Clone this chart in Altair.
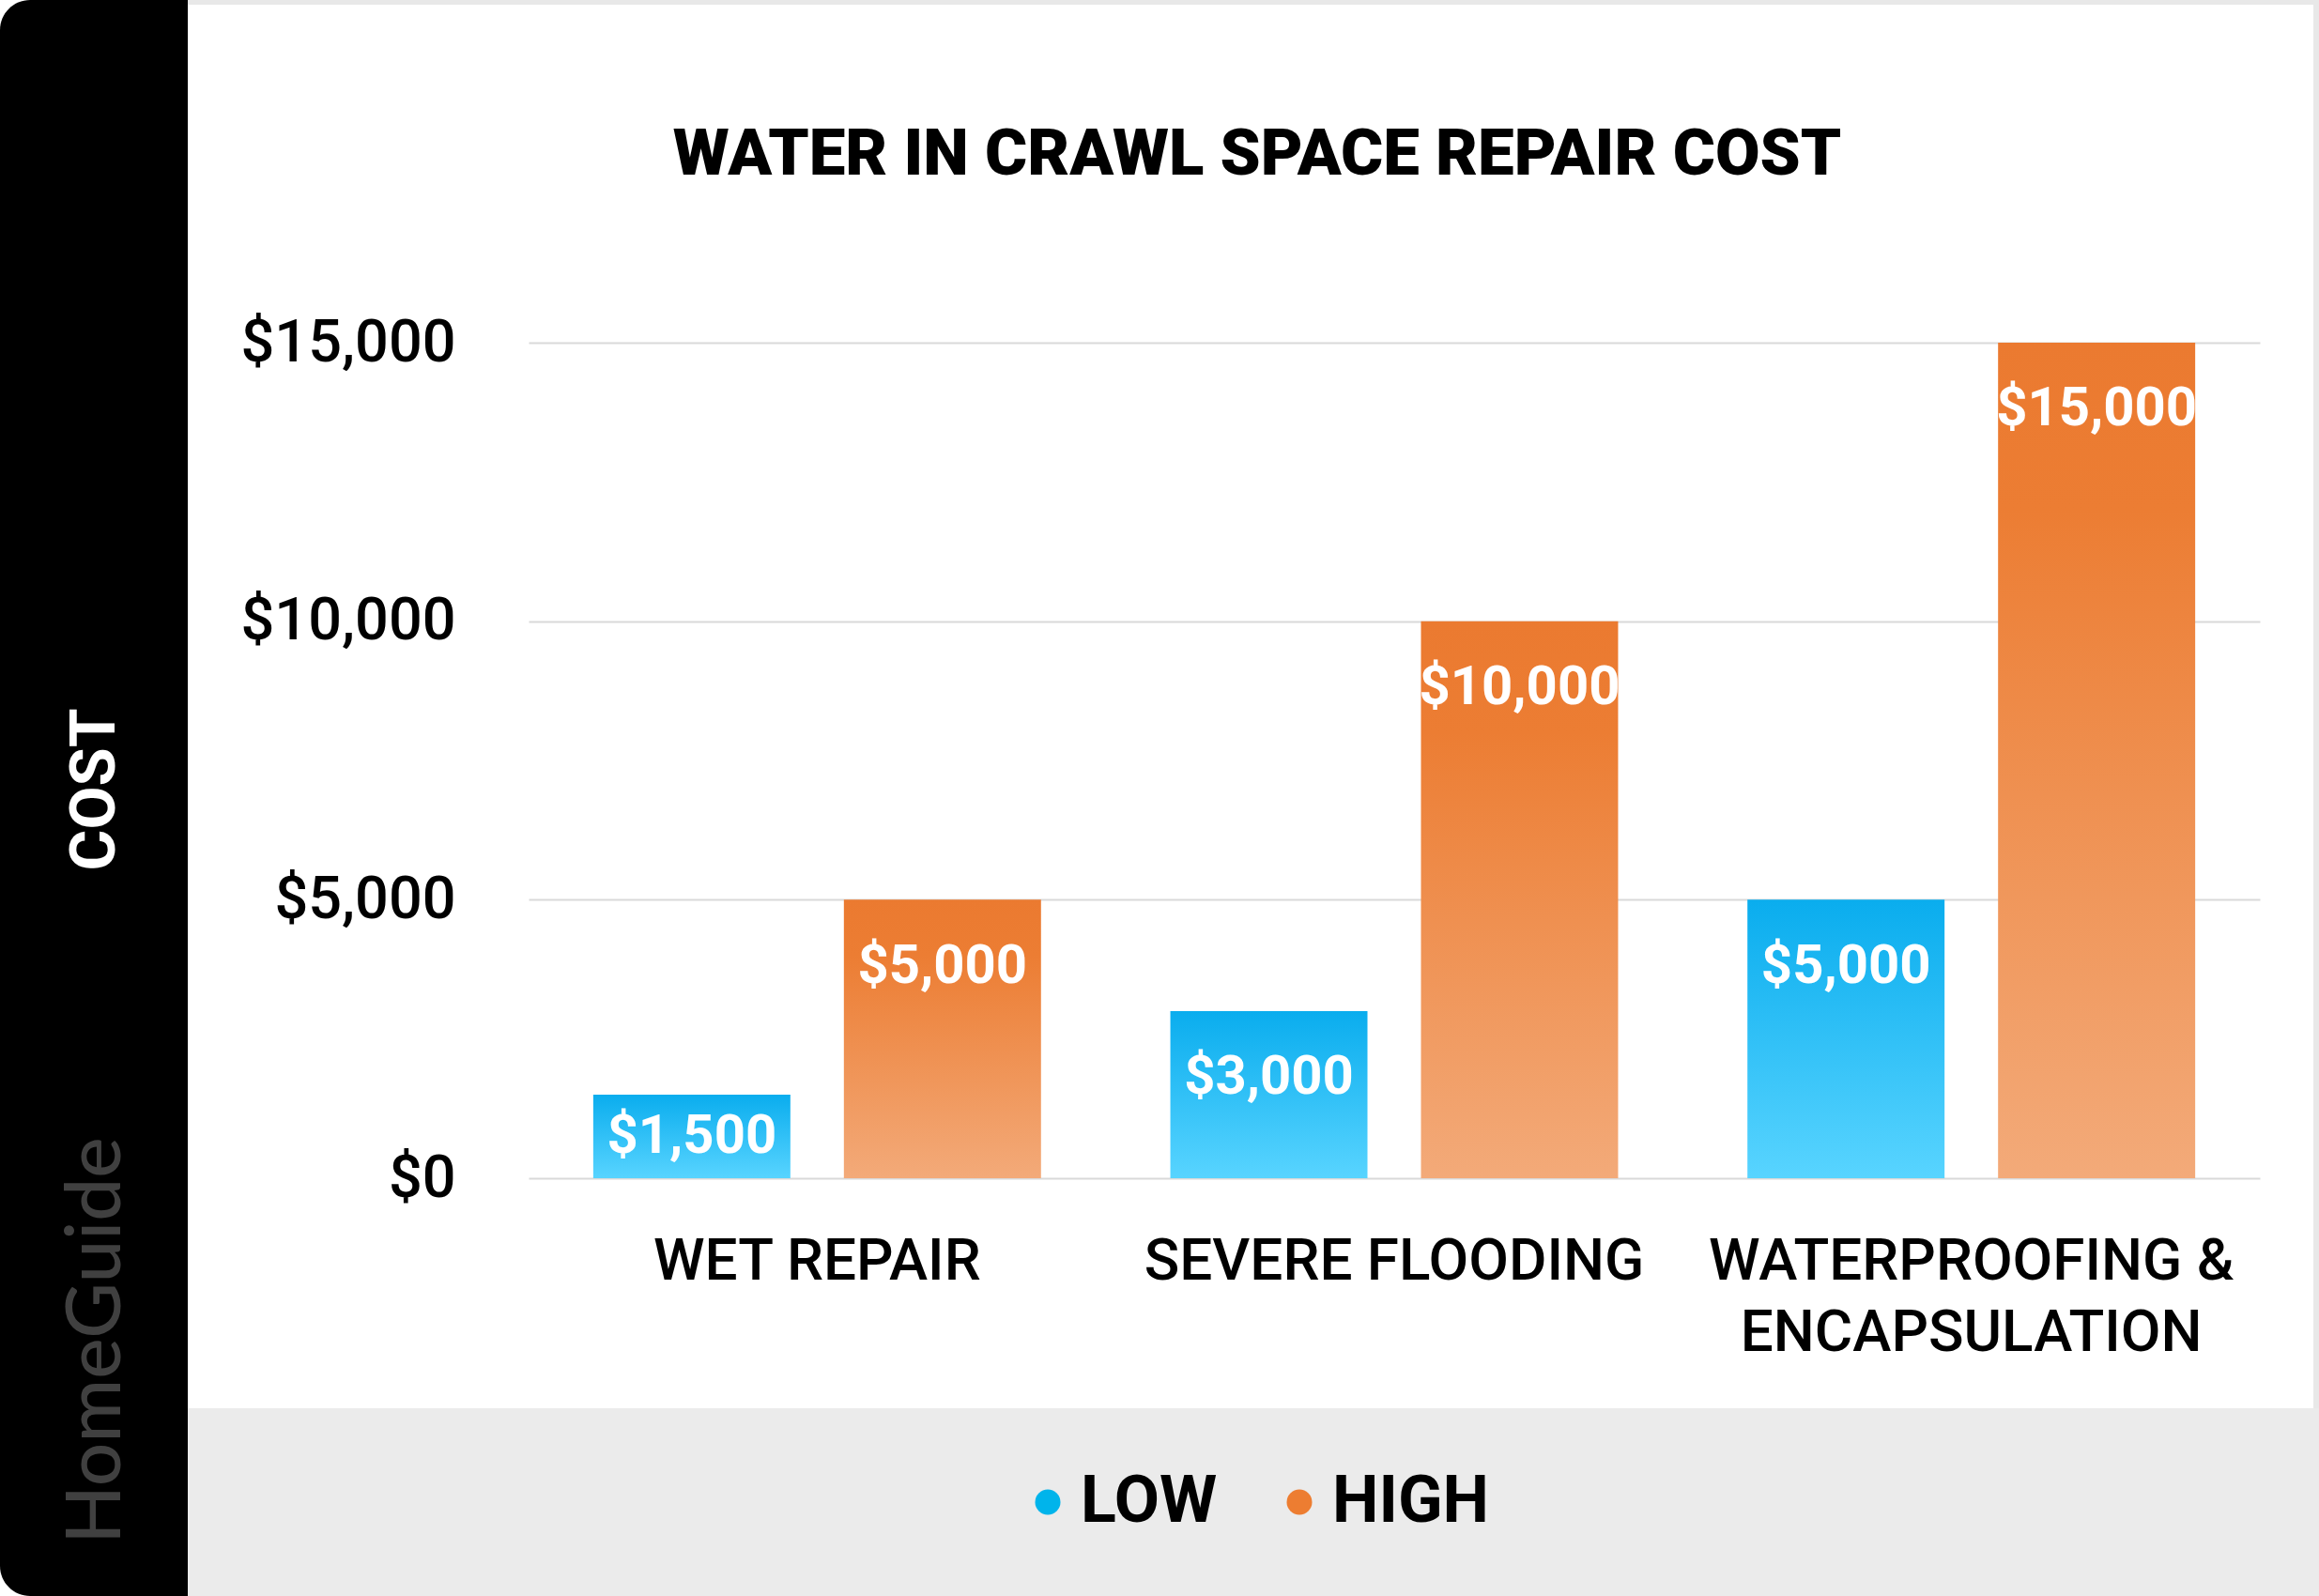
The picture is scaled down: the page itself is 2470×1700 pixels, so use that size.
import altair as alt
import pandas as pd

# ---------------- data ----------------
categories = ["WET REPAIR", "SEVERE FLOODING", "WATERPROOFING & ENCAPSULATION"]
low_costs = [1500, 3000, 5000]
high_costs = [5000, 10000, 15000]
series_names = ["LOW", "HIGH"]
series_colors = ["#00b4eb", "#ed7d31"]
y_ticks = [0, 5000, 10000, 15000]

title_text = "WATER IN CRAWL SPACE REPAIR COST"
axis_title_text = "COST"
brand_text = "HomeGuide"

rows = []
for c, lo, hi in zip(categories, low_costs, high_costs):
    rows.append({"category": c, "series": "LOW", "value": lo})
    rows.append({"category": c, "series": "HIGH", "value": hi})
df = pd.DataFrame(rows)

# ---------------- layout ----------------
W, H = 1844, 890
PL, PT, PR, PB = 563, 365, 63, 445
TOTAL_W, TOTAL_H = PL + W + PR, PT + H + PB

FONT = "Roboto"

x_axis = alt.Axis(
    title=None, labelAngle=0, domain=False, ticks=False, grid=False,
    labelFont=FONT, labelFontSize=62, labelFontWeight=500, labelColor="black",
    labelPadding=58, labelLineHeight=76, labelLimit=2000,
    labelExpr="datum.label == 'WATERPROOFING & ENCAPSULATION' ? "
              "['WATERPROOFING &', 'ENCAPSULATION'] : datum.label",
)
y_axis = alt.Axis(
    title=None, values=y_ticks, format="$,.0f", domain=False, ticks=False,
    labelFont=FONT, labelFontSize=63, labelFontWeight=500, labelColor="black",
    labelPadding=78, labelLimit=2000, gridColor="#d9d9d9", gridWidth=2,
)

x_enc = alt.X("category:N", sort=categories,
              scale=alt.Scale(paddingInner=0, paddingOuter=0), axis=x_axis)
xoff_enc = alt.XOffset("series:N", sort=series_names,
                       scale=alt.Scale(domain=series_names,
                                       paddingInner=0.2135, paddingOuter=0.258))
y_scale = alt.Scale(domain=[0, 15000], nice=False, zero=True)
y_enc = alt.Y("value:Q", scale=y_scale, axis=y_axis)

blue_grad = alt.LinearGradient(
    gradient="linear", x1=0, x2=0, y1=0, y2=1,
    stops=[alt.GradientStop(color="#0aadee", offset=0),
           alt.GradientStop(color="#58d4ff", offset=1)],
)
orange_grad = alt.LinearGradient(
    gradient="linear", x1=0, x2=0, y1=0, y2=1,
    stops=[alt.GradientStop(color="#eb7a30", offset=0),
           alt.GradientStop(color="#ec7d33", offset=0.2),
           alt.GradientStop(color="#f3aa79", offset=1)],
)

one = alt.Data(values=[{"k": 1}])

# decorative frame
sidebar = alt.Chart(one).mark_rect(
    color="black", cornerRadiusTopLeft=32, cornerRadiusBottomLeft=32
).encode(x=alt.value(-PL), x2=alt.value(-PL + 200),
         y=alt.value(-PT), y2=alt.value(TOTAL_H - PT))
band = alt.Chart(one).mark_rect(color="#ebebeb").encode(
    x=alt.value(-PL + 200), x2=alt.value(W + PR),
    y=alt.value(1500 - PT), y2=alt.value(TOTAL_H - PT))
top_strip = alt.Chart(one).mark_rect(color="#e8e8e8").encode(
    x=alt.value(-PL + 200), x2=alt.value(W + PR),
    y=alt.value(-PT), y2=alt.value(-PT + 5))
right_strip = alt.Chart(one).mark_rect(color="#e8e8e8").encode(
    x=alt.value(W + PR - 6), x2=alt.value(W + PR),
    y=alt.value(-PT), y2=alt.value(1500 - PT))

base = alt.Chart(df)

bars_low = base.transform_filter(alt.datum.series == "LOW").mark_bar(
    color=blue_grad).encode(x=x_enc, xOffset=xoff_enc, y=y_enc)
bars_high = base.transform_filter(alt.datum.series == "HIGH").mark_bar(
    color=orange_grad).encode(x=x_enc, xOffset=xoff_enc, y=y_enc)

labels = base.transform_calculate(
    label_y="max(datum.value - 1200, datum.value / 2)"
).mark_text(
    color="white", font=FONT, fontSize=58, fontWeight="bold",
    baseline="middle", align="center"
).encode(
    x=x_enc, xOffset=xoff_enc,
    y=alt.Y("label_y:Q", scale=y_scale, axis=y_axis),
    text=alt.Text("value:Q", format="$,.0f"),
)

legend_layer = base.mark_circle(opacity=0, size=10).encode(
    x=x_enc, xOffset=xoff_enc, y=y_enc,
    color=alt.Color(
        "series:N", sort=series_names,
        scale=alt.Scale(domain=series_names, range=series_colors),
        legend=alt.Legend(
            title=None, orient="none", legendX=518, legendY=1200,
            direction="horizontal", padding=0,
            labelFont=FONT, labelFontSize=70, labelFontWeight="bold",
            labelColor="black", labelOffset=0, columnPadding=52,
            symbolType="circle", symbolSize=729, symbolOpacity=1,
            symbolStrokeWidth=0, labelLimit=1000,
        ),
    ),
)

title_mark = alt.Chart(one).mark_text(
    text=title_text, font=FONT, fontSize=69, fontWeight=900, color="black",
    align="center", baseline="alphabetic",
).encode(x=alt.value(1339 - PL), y=alt.value(186 - PT))

cost_mark = alt.Chart(one).mark_text(
    text=axis_title_text, font=FONT, fontSize=67, fontWeight="bold",
    color="white", angle=270, align="center", baseline="middle",
).encode(x=alt.value(102 - PL), y=alt.value(841 - PT))

brand_mark = alt.Chart(one).mark_text(
    text=brand_text, font="Lato", fontSize=82, fontWeight=500, color="#404040",
    angle=270, align="center", baseline="middle",
).encode(x=alt.value(103 - PL), y=alt.value(1428 - PT))

chart = alt.layer(
    sidebar, band, top_strip, right_strip,
    bars_low, bars_high, labels, legend_layer,
    title_mark, cost_mark, brand_mark,
).properties(
    width=W, height=H,
    padding={"left": PL, "top": PT, "right": PR, "bottom": PB},
    autosize=alt.AutoSizeParams(type="none"),
    background="white",
).configure_view(stroke=None)

chart.save("out.html", embed_options={"renderer": "svg", "actions": False})
